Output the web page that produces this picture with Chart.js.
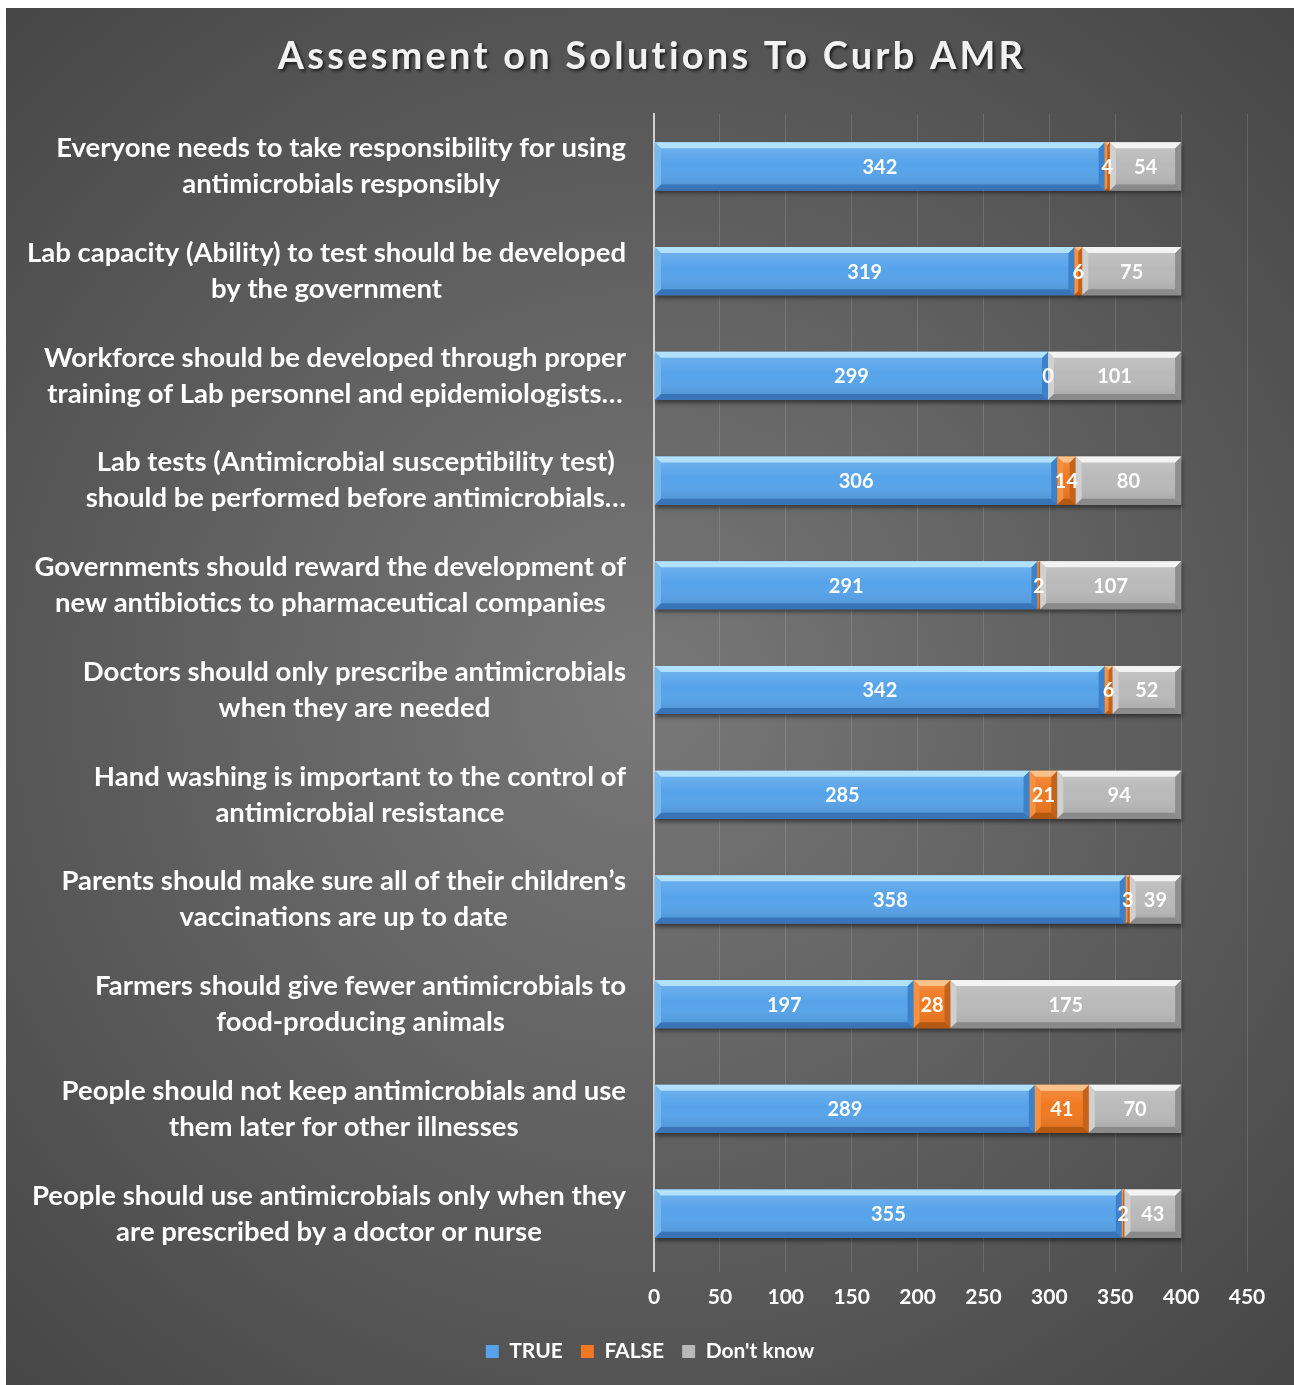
<!DOCTYPE html>
<html>
<head>
<meta charset="utf-8">
<script src="https://cdn.jsdelivr.net/npm/chart.js@4/dist/chart.umd.min.js"></script>
<style>
  html, body { margin: 0; padding: 0; background: #ffffff; }
  #wrap { position: absolute; left: 6px; top: 8px; width: 1288px; height: 1377px; }
</style>
</head>
<body>
<div id="wrap"><canvas id="c"></canvas></div>
<script>
const chartTitle = 'Assesment on Solutions To Curb AMR';
const categories = [
  ['Everyone needs to take responsibility for using', 'antimicrobials responsibly'],
  ['Lab capacity (Ability) to test should be developed', 'by the government'],
  ['Workforce should be developed through proper', 'training of Lab personnel and epidemiologists…'],
  ['Lab tests (Antimicrobial susceptibility test)', 'should be performed before antimicrobials…'],
  ['Governments should reward the development of', 'new antibiotics to pharmaceutical companies'],
  ['Doctors should only prescribe antimicrobials', 'when they are needed'],
  ['Hand washing is important to the control of', 'antimicrobial resistance'],
  ['Parents should make sure all of their children’s', 'vaccinations are up to date'],
  ['Farmers should give fewer antimicrobials to', 'food-producing animals'],
  ['People should not keep antimicrobials and use', 'them later for other illnesses'],
  ['People should use antimicrobials only when they', 'are prescribed by a doctor or nurse']
];
const seriesNames = ['TRUE', 'FALSE', "Don't know"];
const trueValues     = [342, 319, 299, 306, 291, 342, 285, 358, 197, 289, 355];
const falseValues    = [4, 6, 0, 14, 2, 6, 21, 3, 28, 41, 2];
const dontKnowValues = [54, 75, 101, 80, 107, 52, 94, 39, 175, 70, 43];
const xTicks = [0, 50, 100, 150, 200, 250, 300, 350, 400, 450];

const FONT = 'Lato, "Open Sans", "DejaVu Sans", sans-serif';
const palette = [
  { face: '#56a3ea', top: '#b2e2fb', bottom: '#3a74b8', right: '#3d82c8', left: '#74b8f0' },
  { face: '#f07820', top: '#f9c28c', bottom: '#b55912', right: '#c4631a', left: '#f59140' },
  { face: '#b9b9b9', top: '#f3f3f3', bottom: '#8a8a8a', right: '#8e8e8e', left: '#d0d0d0' }
];

const bgPlugin = {
  id: 'bg',
  beforeDraw(chart) {
    const { ctx, width, height } = chart;
    ctx.save();
    const g = ctx.createRadialGradient(640, 690, 0, 640, 690, 980);
    g.addColorStop(0, '#787878');
    g.addColorStop(1, '#444444');
    ctx.fillStyle = g;
    ctx.fillRect(0, 0, width, height);
    ctx.restore();
  }
};

const shadowPlugin = {
  id: 'barShadow',
  beforeDatasetsDraw(chart) {
    const ctx = chart.ctx;
    ctx.save();
    ctx.shadowColor = 'rgba(0,0,0,0.45)';
    ctx.shadowBlur = 4;
    ctx.shadowOffsetX = 1;
    ctx.shadowOffsetY = 3;
  },
  afterDatasetsDraw(chart) {
    chart.ctx.restore();
  }
};

function quad(ctx, pts, color) {
  ctx.fillStyle = color;
  ctx.beginPath();
  ctx.moveTo(pts[0][0], pts[0][1]);
  for (let i = 1; i < pts.length; i++) ctx.lineTo(pts[i][0], pts[i][1]);
  ctx.closePath();
  ctx.fill();
}

const bevelPlugin = {
  id: 'bevel',
  afterDatasetsDraw(chart) {
    const ctx = chart.ctx;
    ctx.save();
    chart.data.datasets.forEach((ds, di) => {
      const meta = chart.getDatasetMeta(di);
      const c = palette[di];
      meta.data.forEach(el => {
        const p = el.getProps(['x', 'base', 'y', 'height'], true);
        const l = Math.min(p.x, p.base), r = Math.max(p.x, p.base);
        const t = p.y - p.height / 2, b = p.y + p.height / 2;
        if (r - l < 0.5) return;
        const e = Math.min(6, (r - l) / 2);
        const g = ctx.createLinearGradient(0, t, 0, b);
        g.addColorStop(0, 'rgba(255,255,255,0.18)');
        g.addColorStop(0.45, 'rgba(255,255,255,0.0)');
        g.addColorStop(1, 'rgba(0,0,0,0.12)');
        ctx.fillStyle = g;
        ctx.fillRect(l, t, r - l, b - t);
        quad(ctx, [[l, t], [l + e, t + e], [l + e, b - e], [l, b]], c.left);
        quad(ctx, [[r, t], [r, b], [r - e, b - e], [r - e, t + e]], c.right);
        quad(ctx, [[l, t], [r, t], [r - e, t + e], [l + e, t + e]], c.top);
        quad(ctx, [[l, b], [l + e, b - e], [r - e, b - e], [r, b]], c.bottom);
      });
    });
    ctx.fillStyle = '#ffffff';
    ctx.font = 'bold 20px ' + FONT;
    ctx.textAlign = 'center';
    ctx.textBaseline = 'middle';
    chart.data.datasets.forEach((ds, di) => {
      const meta = chart.getDatasetMeta(di);
      meta.data.forEach((el, i) => {
        const p = el.getProps(['x', 'base', 'y'], true);
        ctx.fillText(String(ds.data[i]), (p.x + p.base) / 2, p.y + 1);
      });
    });
    ctx.restore();
  }
};

const textPlugin = {
  id: 'texts',
  afterDraw(chart) {
    const ctx = chart.ctx;
    const yScale = chart.scales.y;
    ctx.save();
    ctx.font = 'bold 38px ' + FONT;
    ctx.textAlign = 'center';
    ctx.textBaseline = 'middle';
    if ('letterSpacing' in ctx) ctx.letterSpacing = '3.2px';
    ctx.shadowColor = 'rgba(0,0,0,0.65)';
    ctx.shadowBlur = 3;
    ctx.shadowOffsetX = 2;
    ctx.shadowOffsetY = 2;
    ctx.fillStyle = '#f2f2f2';
    ctx.fillText(chartTitle, chart.width / 2 + 2, 49);
    ctx.restore();

    ctx.save();
    ctx.font = 'bold 27.5px ' + FONT;
    ctx.fillStyle = '#ffffff';
    ctx.textAlign = 'center';
    ctx.textBaseline = 'middle';
    const rightEdge = yScale.right - 28;
    const lh = 36;
    categories.forEach((lines, i) => {
      const yc = yScale.getPixelForValue(i);
      let maxW = 0;
      lines.forEach(s => { maxW = Math.max(maxW, ctx.measureText(s).width); });
      const cx = rightEdge - maxW / 2;
      lines.forEach((s, k) => {
        ctx.fillText(s, cx, yc + (k - (lines.length - 1) / 2) * lh);
      });
    });
    ctx.restore();
  }
};

const values = [trueValues, falseValues, dontKnowValues];
const datasets = seriesNames.map((name, i) => ({
  label: name,
  data: values[i],
  backgroundColor: palette[i].face,
  borderWidth: 0,
  categoryPercentage: 1.0,
  barPercentage: 0.46
}));

new Chart(document.getElementById('c'), {
  type: 'bar',
  data: { labels: categories.map(l => l.join(' ')), datasets },
  plugins: [bgPlugin, shadowPlugin, bevelPlugin, textPlugin],
  options: {
    indexAxis: 'y',
    responsive: true,
    maintainAspectRatio: false,
    animation: false,
    layout: { padding: { top: 106, left: 0, right: 0, bottom: 13 } },
    scales: {
      x: {
        stacked: true,
        min: xTicks[0],
        max: xTicks[xTicks.length - 1],
        afterBuildTicks(scale) { scale.ticks = xTicks.map(v => ({ value: v })); },
        afterFit(scale) { scale.height = 57; },
        border: { display: false },
        grid: {
          color: ctx => ctx.index === 0 ? '#d0d0d0' : 'rgba(255,255,255,0.13)',
          lineWidth: ctx => ctx.index === 0 ? 2 : 1,
          drawTicks: true,
          tickLength: 6
        },
        ticks: {
          color: '#ffffff',
          padding: 13,
          font: { family: FONT, size: 21, weight: 'bold' }
        }
      },
      y: {
        stacked: true,
        afterFit(scale) { scale.width = 648; },
        grid: { display: false },
        border: { display: true, color: '#d0d0d0', width: 2 },
        ticks: { display: false }
      },
      y2: {
        type: 'linear',
        position: 'right',
        display: true,
        afterFit(scale) { scale.width = 47; },
        grid: { display: false },
        border: { display: false },
        ticks: { display: false }
      }
    },
    plugins: {
      title: { display: false },
      tooltip: { enabled: false },
      legend: {
        position: 'bottom',
        labels: {
          color: '#ffffff',
          boxWidth: 13,
          boxHeight: 13,
          padding: 18,
          font: { family: FONT, size: 21, weight: 'bold' }
        }
      }
    }
  }
});
</script>
</body>
</html>
